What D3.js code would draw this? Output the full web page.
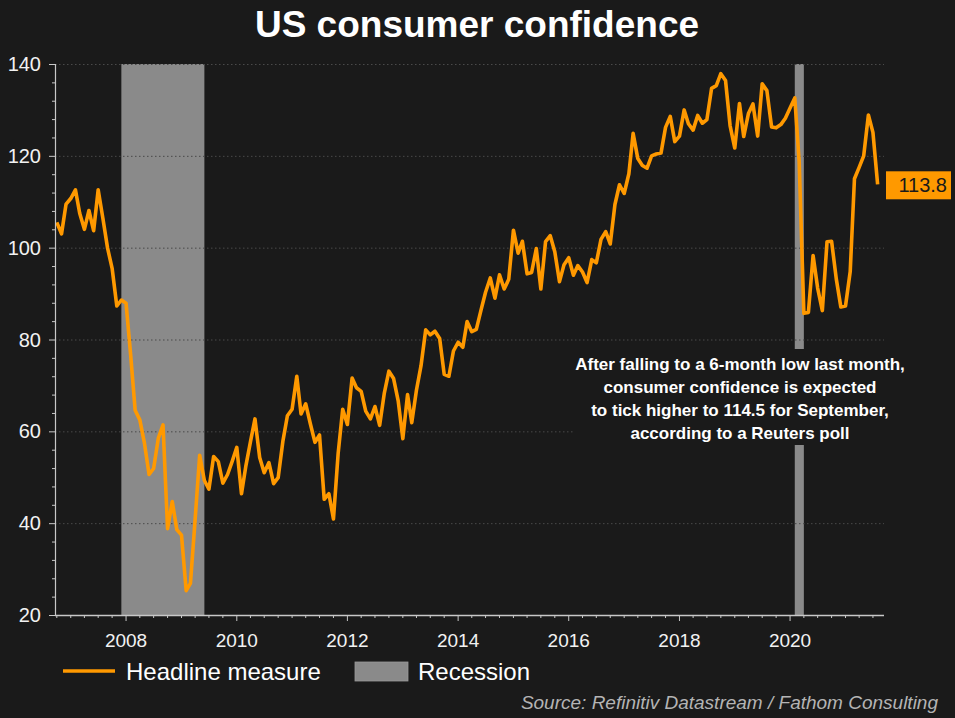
<!DOCTYPE html>
<html>
<head>
<meta charset="utf-8">
<script src="https://cdn.jsdelivr.net/npm/d3@7"></script>
<style>
  html, body { margin: 0; padding: 0; background: #1a1a1a; }
  svg { display: block; font-family: "Liberation Sans", Arial, sans-serif; }
</style>
</head>
<body>
<svg id="chart" width="955" height="718"></svg>
<script>
// ---------------- DATA ----------------
const title = "US consumer confidence";
const seriesName = "Headline measure";
const recessionName = "Recession";
const sourceText = "Source: Refinitiv Datastream / Fathom Consulting";
const firstMonth = "2006-10-01";   // monthly series starts here
// Conference Board consumer confidence, monthly, Oct 2006 .. Aug 2021
const values = [
  105.5, 103.0, 109.5,                                                          // 2006 Oct-Dec
  110.7, 112.6, 107.5, 104.0, 108.1, 103.7, 112.6, 106.4, 99.9, 95.5, 87.3, 88.6, // 2007
  87.9, 76.4, 64.6, 62.5, 57.5, 50.6, 51.9, 58.5, 61.4, 38.8, 44.7, 38.6,        // 2008
  37.4, 25.3, 26.9, 40.8, 54.8, 49.3, 47.4, 54.5, 53.4, 48.7, 50.6, 53.4,        // 2009
  56.5, 46.4, 52.3, 57.7, 62.7, 54.3, 51.0, 53.2, 48.6, 49.9, 57.8, 63.4,        // 2010
  64.8, 72.0, 63.8, 66.0, 61.7, 57.6, 59.2, 45.2, 46.4, 40.9, 55.2, 64.8,        // 2011
  61.5, 71.6, 69.5, 68.7, 64.4, 62.7, 65.4, 61.3, 68.4, 73.1, 71.5, 66.7,        // 2012
  58.4, 68.0, 61.9, 69.0, 74.3, 82.1, 81.0, 81.8, 80.2, 72.4, 72.0, 77.5,        // 2013
  79.4, 78.3, 83.9, 81.7, 82.2, 86.4, 90.3, 93.4, 89.0, 94.1, 91.0, 93.1,        // 2014
  103.8, 98.8, 101.4, 94.3, 94.6, 99.8, 91.0, 101.3, 102.6, 99.1, 92.6, 96.3,    // 2015
  97.8, 94.0, 96.1, 94.7, 92.4, 97.4, 96.7, 101.8, 103.5, 100.8, 109.4, 113.7,   // 2016
  111.8, 116.1, 124.9, 119.4, 117.9, 117.3, 120.0, 120.4, 120.6, 126.2, 128.6, 123.1, // 2017
  124.3, 130.0, 127.0, 125.6, 128.8, 127.1, 127.9, 134.7, 135.3, 137.9, 136.4, 126.6, // 2018
  121.7, 131.4, 124.2, 129.2, 131.3, 124.3, 135.7, 134.2, 126.3, 126.1, 126.8, 128.2, // 2019
  130.4, 132.6, 118.8, 85.7, 85.9, 98.3, 91.2, 86.3, 101.3, 101.4, 93.2, 87.1,   // 2020
  87.3, 94.8, 115.0, 117.5, 120.0, 128.9, 125.1, 113.8                           // 2021 Jan-Aug
];
const recessionStarts = ["2007-12-01", "2020-02-01"];
const recessionEnds   = ["2009-06-01", "2020-04-01"];
const yTickValues = [20, 40, 60, 80, 100, 120, 140];
const xTickYears = [2008, 2010, 2012, 2014, 2016, 2018, 2020];
const lastLabel = "113.8";
const annotationLines = [
  "After falling to a 6-month low last month,",
  "consumer confidence is expected",
  "to tick higher to 114.5 for September,",
  "according to a Reuters poll"
];

// ---------------- CHART ----------------
const svg = d3.select("#chart");
const W = 955, H = 718;
const BG = "#1a1a1a", ORANGE = "#ff9900", GREY = "#8a8a8a", AXIS = "#c8c8c8";
const plot = { left: 55, right: 884, top: 64, bottom: 615 };

svg.append("rect").attr("width", W).attr("height", H).attr("fill", BG);

const parse = d3.utcParse("%Y-%m-%d");
const start = parse(firstMonth);
const data = values.map((v, i) => ({ date: d3.utcMonth.offset(start, i), value: v }));

const x = d3.scaleUtc()
  .domain([new Date(Date.UTC(2006, 8, 19)), new Date(Date.UTC(2021, 8, 12))])
  .range([plot.left, plot.right]);
const y = d3.scaleLinear().domain([20, 140]).range([plot.bottom, plot.top]);

// recession bars
svg.append("g").selectAll("rect")
  .data(recessionStarts.map((s, i) => ({ s: parse(s), e: parse(recessionEnds[i]) })))
  .join("rect")
  .attr("x", d => x(d.s))
  .attr("width", d => x(d.e) - x(d.s))
  .attr("y", y(140))
  .attr("height", y(20) - y(140))
  .attr("fill", GREY);

// gridlines
svg.append("g").selectAll("line")
  .data(yTickValues.filter(v => v > 20))
  .join("line")
  .attr("x1", plot.left).attr("x2", plot.right)
  .attr("y1", d => y(d) + 0.5).attr("y2", d => y(d) + 0.5)
  .attr("stroke", "#4a4a4a").attr("stroke-width", 1)
  .attr("stroke-dasharray", "1.5,2.5");

// annotation background box (hides grid/bar behind text)
svg.append("rect")
  .attr("x", 575).attr("y", 349).attr("width", 330).attr("height", 96)
  .attr("fill", BG);

// line
const line = d3.line().x(d => x(d.date)).y(d => y(d.value));
svg.append("path").datum(data)
  .attr("d", line)
  .attr("fill", "none")
  .attr("stroke", ORANGE)
  .attr("stroke-width", 3.6)
  .attr("stroke-linejoin", "round")
  .attr("stroke-linecap", "butt");

// Y axis
const yMinor = d3.range(20, 141, 4);
const yAxisG = svg.append("g").attr("transform", `translate(${plot.left},0)`);
yAxisG.append("line").attr("x1", 0.5).attr("x2", 0.5)
  .attr("y1", plot.top).attr("y2", plot.bottom + 0.5)
  .attr("stroke", AXIS).attr("stroke-width", 1.2);
yAxisG.selectAll("line.minor").data(yMinor).join("line").attr("class", "minor")
  .attr("x1", d => yTickValues.includes(d) ? -6 : -3).attr("x2", 0)
  .attr("y1", d => y(d) + 0.5).attr("y2", d => y(d) + 0.5)
  .attr("stroke", AXIS).attr("stroke-width", 1);
yAxisG.selectAll("text").data(yTickValues).join("text")
  .attr("x", -14).attr("y", d => y(d))
  .attr("dy", "0.35em")
  .attr("text-anchor", "end")
  .attr("fill", "#f2f2f2").attr("font-size", 20)
  .text(d => d);

// X axis
const xMinor = d3.utcMonth.every(3).range(x.domain()[0], x.domain()[1]);
const xAxisG = svg.append("g").attr("transform", `translate(0,${plot.bottom})`);
xAxisG.append("line").attr("x1", plot.left).attr("x2", plot.right)
  .attr("y1", 0.5).attr("y2", 0.5)
  .attr("stroke", AXIS).attr("stroke-width", 1.5);
xAxisG.selectAll("line.minor").data(xMinor).join("line").attr("class", "minor")
  .attr("x1", d => x(d)).attr("x2", d => x(d))
  .attr("y1", 0)
  .attr("y2", d => (d.getUTCMonth() === 0 && d.getUTCFullYear() % 2 === 0) ? 6 : 3)
  .attr("stroke", AXIS).attr("stroke-width", 1);
xAxisG.selectAll("text").data(xTickYears).join("text")
  .attr("x", d => x(new Date(Date.UTC(d, 0, 1))))
  .attr("y", 32)
  .attr("text-anchor", "middle")
  .attr("fill", "#f2f2f2").attr("font-size", 19)
  .text(d => d);

// last value label
const last = data[data.length - 1];
const ly = y(last.value);
svg.append("rect")
  .attr("x", 886).attr("y", ly - 13).attr("width", 65).attr("height", 28)
  .attr("fill", ORANGE);
svg.append("text")
  .attr("x", 947).attr("y", ly + 8)
  .attr("text-anchor", "end")
  .attr("fill", "#1a1a1a").attr("font-size", 20)
  .text(lastLabel);

// annotation
svg.append("g").selectAll("text").data(annotationLines).join("text")
  .attr("x", 740).attr("y", (d, i) => 370 + i * 23)
  .attr("text-anchor", "middle")
  .attr("fill", "#ffffff").attr("font-size", 17).attr("font-weight", "bold")
  .text(d => d);

// title
svg.append("text")
  .attr("x", 477).attr("y", 37)
  .attr("text-anchor", "middle")
  .attr("fill", "#ffffff").attr("font-size", 37).attr("font-weight", "bold")
  .text(title);

// legend
const lg = svg.append("g");
lg.append("line").attr("x1", 63).attr("x2", 115).attr("y1", 671).attr("y2", 671)
  .attr("stroke", ORANGE).attr("stroke-width", 3.5);
lg.append("text").attr("x", 126).attr("y", 680).attr("fill", "#ffffff")
  .attr("font-size", 24).text(seriesName);
lg.append("rect").attr("x", 355).attr("y", 662).attr("width", 53).attr("height", 19)
  .attr("fill", GREY).attr("stroke", "#9a9a9a").attr("stroke-width", 0.8);
lg.append("text").attr("x", 418).attr("y", 680).attr("fill", "#ffffff")
  .attr("font-size", 24).text(recessionName);

// source
svg.append("text")
  .attr("x", 938).attr("y", 709)
  .attr("text-anchor", "end")
  .attr("fill", "#b4b4b4").attr("font-size", 19).attr("font-style", "italic")
  .text(sourceText);
</script>
</body>
</html>
